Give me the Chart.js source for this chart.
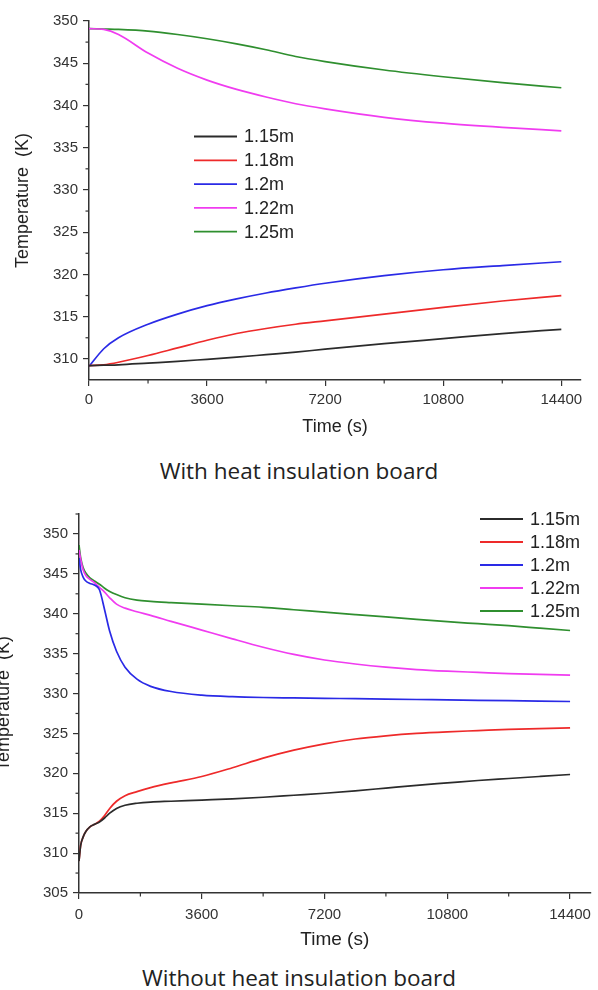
<!DOCTYPE html>
<html>
<head>
<meta charset="utf-8">
<script src="https://cdn.jsdelivr.net/npm/chart.js@4.4.1/dist/chart.umd.min.js"></script>
<style>
  body { margin: 0; background: #fff; width: 598px; height: 990px; position: relative; overflow: hidden; }
  #topBox { position: absolute; left: 0; top: 0; }
  #bottomBox { position: absolute; left: -24px; top: 490px; }
  .caption { position: absolute; left: 0; width: 598px; text-align: center; font-family: "Open Sans", sans-serif; font-size: 22.5px; line-height: 30px; color: #222; }
</style>
</head>
<body>
<div id="topBox"><canvas id="chartTop" width="598" height="445"></canvas></div>
<div class="caption" style="top:456px">With heat insulation board</div>
<div id="bottomBox"><canvas id="chartBottom" width="622" height="465"></canvas></div>
<div class="caption" style="top:963px">Without heat insulation board</div>

<script>
const seriesLabels = ['1.15m', '1.18m', '1.2m', '1.22m', '1.25m'];
const seriesColors = ['#2b2b2b', '#ee2a2a', '#2a2ae6', '#f03cf0', '#2f8f2f'];

const xMajor = [0, 3600, 7200, 10800, 14400];
const xMinor = [1800, 5400, 9000, 12600];

// with heat insulation board
const timeTop = [0, 450, 900, 1800, 2700, 3600, 4500, 5400, 6300, 7200, 9000, 10800, 12600, 14400];
const top115 = [309.2, 309.25, 309.3, 309.5, 309.7, 309.95, 310.2, 310.5, 310.8, 311.15, 311.8, 312.4, 313.0, 313.5];
const top118 = [309.2, 309.3, 309.6, 310.4, 311.3, 312.2, 313.0, 313.6, 314.1, 314.5, 315.3, 316.1, 316.85, 317.5];
const top120 = [309.1, 311.2, 312.5, 314.1, 315.3, 316.3, 317.1, 317.8, 318.4, 318.95, 319.85, 320.55, 321.05, 321.5];
const top122 = [349.1, 349.0, 348.4, 346.2, 344.4, 343.0, 341.9, 341.0, 340.2, 339.6, 338.6, 337.9, 337.4, 337.0];
const top125 = [349.1, 349.05, 349.0, 348.8, 348.4, 347.9, 347.3, 346.6, 345.8, 345.2, 344.2, 343.4, 342.7, 342.1];
const yMajorTop = [310, 315, 320, 325, 330, 335, 340, 345, 350];
const yMinorTop = [312.5, 317.5, 322.5, 327.5, 332.5, 337.5, 342.5, 347.5];

// without heat insulation board
const timeBottom = [0, 50, 120, 200, 320, 450, 600, 750, 900, 1100, 1350, 1700, 2100, 2700, 3600, 4500, 5400, 6300, 7200, 8100, 9000, 9900, 10800, 11700, 12600, 13500, 14400];
const bot115 = [309.0, 311.0, 312.0, 312.7, 313.3, 313.6, 313.9, 314.4, 315.0, 315.6, 316.0, 316.25, 316.4, 316.5, 316.65, 316.8, 317.0, 317.25, 317.5, 317.8, 318.15, 318.5, 318.8, 319.1, 319.35, 319.6, 319.85];
const bot118 = [309.0, 311.0, 312.0, 312.7, 313.3, 313.6, 314.0, 314.7, 315.6, 316.5, 317.2, 317.7, 318.2, 318.8, 319.6, 320.7, 321.9, 322.9, 323.7, 324.3, 324.7, 325.0, 325.2, 325.35, 325.5, 325.6, 325.7];
const bot120 = [347.0, 345.5, 344.6, 344.1, 343.8, 343.6, 343.0, 340.5, 337.8, 335.3, 333.3, 331.8, 330.9, 330.25, 329.8, 329.6, 329.5, 329.45, 329.4, 329.35, 329.3, 329.25, 329.2, 329.15, 329.1, 329.05, 329.0];
const bot122 = [348.0, 346.8, 345.5, 344.8, 344.3, 343.9, 343.3, 342.7, 342.0, 341.2, 340.7, 340.25, 339.8, 339.05, 337.95, 336.85, 335.8, 334.9, 334.2, 333.7, 333.3, 333.0, 332.8, 332.65, 332.5, 332.4, 332.3];
const bot125 = [348.6, 347.0, 345.8, 345.1, 344.5, 344.1, 343.7, 343.2, 342.8, 342.4, 342.0, 341.7, 341.55, 341.4, 341.2, 341.0, 340.8, 340.5, 340.2, 339.9, 339.6, 339.3, 339.0, 338.75, 338.5, 338.2, 337.9];
const yMajorBottom = [305, 310, 315, 320, 325, 330, 335, 340, 345, 350];
const yMinorBottom = [307.5, 312.5, 317.5, 322.5, 327.5, 332.5, 337.5, 342.5, 347.5, 352.5];

const fontFam = '"Liberation Sans", Arial, sans-serif';

// short ticks between the labelled ones
const minorTicks = {
    id: 'minorTicks',
    afterDraw(chart, args, opts) {
        const ctx = chart.ctx;
        const x = chart.scales.x, y = chart.scales.y;
        ctx.save();
        ctx.strokeStyle = '#333';
        ctx.lineWidth = 1.2;
        opts.x.forEach(v => {
            const px = x.getPixelForValue(v);
            ctx.beginPath(); ctx.moveTo(px, x.top); ctx.lineTo(px, x.top + 3.5); ctx.stroke();
        });
        opts.y.forEach(v => {
            const py = y.getPixelForValue(v);
            ctx.beginPath(); ctx.moveTo(y.right, py); ctx.lineTo(y.right - 3.5, py); ctx.stroke();
        });
        ctx.restore();
    }
};

// legend drawn inside the plot
const insideLegend = {
    id: 'insideLegend',
    afterDraw(chart, args, opts) {
        const ctx = chart.ctx;
        ctx.save();
        ctx.font = '18px ' + fontFam;
        ctx.textBaseline = 'middle';
        chart.data.datasets.forEach((ds, i) => {
            const yy = opts.top + i * opts.gap;
            ctx.strokeStyle = ds.borderColor;
            ctx.lineWidth = 1.8;
            ctx.beginPath(); ctx.moveTo(opts.left, yy); ctx.lineTo(opts.left + 43, yy); ctx.stroke();
            ctx.fillStyle = '#222';
            ctx.fillText(ds.label, opts.left + 50, yy + 1);
        });
        ctx.restore();
    }
};

function makeChart(id, times, series, cfg) {
    const datasets = series.map((vals, i) => ({
        label: seriesLabels[i],
        data: times.map((t, k) => ({ x: t, y: vals[k] })),
        borderColor: seriesColors[i],
        borderWidth: 1.7,
        pointRadius: 0,
        cubicInterpolationMode: 'monotone',
        fill: false
    }));

    return new Chart(document.getElementById(id), {
        type: 'line',
        data: { datasets: datasets },
        plugins: [minorTicks, insideLegend],
        options: {
            responsive: false,
            animation: false,
            layout: { padding: cfg.padding },
            plugins: {
                legend: { display: false },
                tooltip: { enabled: false },
                minorTicks: { x: xMinor, y: cfg.yMinor },
                insideLegend: cfg.legend
            },
            scales: {
                x: {
                    type: 'linear',
                    min: 0,
                    max: 15000,
                    afterBuildTicks: s => { s.ticks = xMajor.map(v => ({ value: v })); },
                    afterFit: s => { s.height = cfg.xHeight; },
                    border: { color: '#333', width: 1.5 },
                    grid: { drawOnChartArea: false, color: '#333', tickLength: 6, lineWidth: 1.2 },
                    ticks: { color: '#333', font: { family: fontFam, size: 15 }, padding: cfg.xPad, maxRotation: 0, autoSkip: false, callback: v => String(v) },
                    title: { display: true, text: 'Time (s)', color: '#222', font: { family: fontFam, size: cfg.xTitleSize }, padding: { top: 0, bottom: cfg.xTitlePad } }
                },
                y: {
                    min: cfg.yMin,
                    max: cfg.yMax,
                    afterBuildTicks: s => { s.ticks = cfg.yMajor.map(v => ({ value: v })); },
                    afterFit: s => { s.width = cfg.yWidth; },
                    border: { color: '#333', width: 1.5 },
                    grid: { drawOnChartArea: false, color: '#333', tickLength: 6, lineWidth: 1.2 },
                    ticks: { color: '#333', font: { family: fontFam, size: 15 }, padding: 5, callback: v => String(v) },
                    title: { display: true, text: 'Temperature  (K)', color: '#222', font: { family: fontFam, size: 18 }, padding: { top: cfg.yTitlePad, bottom: 0 } }
                }
            }
        }
    });
}

makeChart('chartTop', timeTop, [top115, top118, top120, top122, top125], {
    padding: { top: 21, right: 17, left: 0, bottom: 0 },
    yMin: 307.5, yMax: 350,
    yMajor: yMajorTop, yMinor: yMinorTop,
    yWidth: 89, xHeight: 65, xPad: 5,
    xTitleSize: 18, xTitlePad: 7, yTitlePad: 12,
    legend: { left: 194, top: 136.5, gap: 23.8 }
});

makeChart('chartBottom', timeBottom, [bot115, bot118, bot120, bot122, bot125], {
    padding: { top: 24, right: 2, left: 0, bottom: 0 },
    yMin: 305, yMax: 352.5,
    yMajor: yMajorBottom, yMinor: yMinorBottom,
    yWidth: 103, xHeight: 62, xPad: 7,
    xTitleSize: 19, xTitlePad: 4, yTitlePad: 17,
    legend: { left: 504, top: 29, gap: 23 }
});
</script>
</body>
</html>
